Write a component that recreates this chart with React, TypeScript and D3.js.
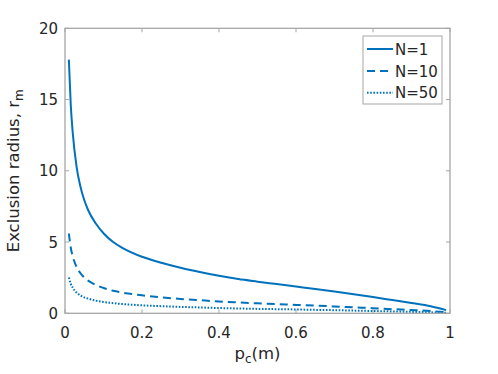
import React from "react";
import * as d3 from "d3";

const pValues = [0.01, 0.015, 0.02, 0.03, 0.04, 0.05, 0.06, 0.08, 0.1, 0.125, 0.15, 0.2, 0.25, 0.3, 0.35, 0.4, 0.45, 0.5, 0.55, 0.6, 0.65, 0.7, 0.75, 0.8, 0.85, 0.9, 0.95, 0.99];
const rN1 = [17.8, 14.6, 12.7, 10.3, 8.9, 7.95, 7.25, 6.3, 5.62, 5.0, 4.58, 3.97, 3.55, 3.2, 2.9, 2.63, 2.4, 2.22, 2.05, 1.88, 1.71, 1.53, 1.34, 1.14, 0.93, 0.72, 0.49, 0.22];
const rN10 = [5.6, 4.6, 4.0, 3.25, 2.82, 2.51, 2.29, 1.99, 1.78, 1.58, 1.45, 1.26, 1.12, 1.01, 0.92, 0.83, 0.76, 0.7, 0.65, 0.59, 0.54, 0.48, 0.42, 0.36, 0.29, 0.23, 0.155, 0.07];
const rN50 = [2.52, 2.06, 1.8, 1.46, 1.26, 1.12, 1.03, 0.89, 0.79, 0.71, 0.65, 0.56, 0.5, 0.45, 0.41, 0.37, 0.34, 0.31, 0.29, 0.27, 0.24, 0.22, 0.19, 0.16, 0.13, 0.1, 0.07, 0.03];
const seriesNames = ["N=1", "N=10", "N=50"];
const xTicks = [0, 0.2, 0.4, 0.6, 0.8, 1];
const yTicks = [0, 5, 10, 15, 20];

const W = 498;
const H = 374;
const L = 65;
const R = 450;
const T = 28.3;
const B = 313.3;
const BLUE = "#0072BD";
const TXT = "#262626";
const AX = "#a6a6a6";
const FONT = "'DejaVu Sans', sans-serif";

export default function App() {
  const x = d3.scaleLinear().domain([0, 1]).range([L, R]);
  const y = d3.scaleLinear().domain([0, 20]).range([B, T]);
  const line = d3
    .line<number>()
    .x((_, i) => x(pValues[i]))
    .y((d) => y(d))
    .curve(d3.curveMonotoneX);
  const series = [rN1, rN10, rN50];
  const dashes = ["none", "8,5", "1.6,1.6"];
  const tl = 4;
  const legX = 363;
  const legY = 36;
  const legRows = [49, 71, 92.7];

  return (
    <svg
      width={W}
      height={H}
      style={{ position: "absolute", left: 0, top: 0, background: "#fff" }}
      fontFamily={FONT}
    >
      <rect x={0} y={0} width={W} height={H} fill="#fff" />
      {xTicks.map((t) => (
        <g key={"xt" + t}>
          <line x1={x(t)} x2={x(t)} y1={B} y2={B - tl} stroke={AX} strokeWidth={1} />
          <line x1={x(t)} x2={x(t)} y1={T} y2={T + tl} stroke={AX} strokeWidth={1} />
          <text x={x(t)} y={338} textAnchor="middle" fontSize={15} fill={TXT}>
            {String(t)}
          </text>
        </g>
      ))}
      {yTicks.map((t) => (
        <g key={"yt" + t}>
          <line x1={L} x2={L + tl} y1={y(t)} y2={y(t)} stroke={AX} strokeWidth={1} />
          <line x1={R} x2={R - tl} y1={y(t)} y2={y(t)} stroke={AX} strokeWidth={1} />
          <text x={58} y={y(t) + 5.5} textAnchor="end" fontSize={15} fill={TXT}>
            {String(t)}
          </text>
        </g>
      ))}
      {series.map((s, i) => (
        <path
          key={"s" + i}
          d={line(s) || ""}
          fill="none"
          stroke={BLUE}
          strokeWidth={2}
          strokeDasharray={dashes[i]}
        />
      ))}
      <rect x={L} y={T} width={R - L} height={B - T} fill="none" stroke={AX} strokeWidth={1.3} />
      <rect x={legX} y={legY} width={79} height={68} fill="#fff" stroke={AX} strokeWidth={1} />
      {seriesNames.map((n, i) => (
        <g key={"lg" + i}>
          <line
            x1={367}
            x2={393}
            y1={legRows[i]}
            y2={legRows[i]}
            stroke={BLUE}
            strokeWidth={2}
            strokeDasharray={dashes[i]}
          />
          <text x={395} y={legRows[i] + 5.5} fontSize={15} fill={TXT}>
            {n}
          </text>
        </g>
      ))}
      <text x={(L + R) / 2} y={359} textAnchor="middle" fontSize={16.5} fill={TXT}>
        p<tspan fontSize={12} dy={4}>c</tspan>
        <tspan dy={-4}>(m)</tspan>
      </text>
      <text
        transform={`translate(19,${(T + B) / 2}) rotate(-90)`}
        textAnchor="middle"
        fontSize={16.5}
        fill={TXT}
      >
        Exclusion radius, r<tspan fontSize={12} dy={4}>m</tspan>
      </text>
    </svg>
  );
}
